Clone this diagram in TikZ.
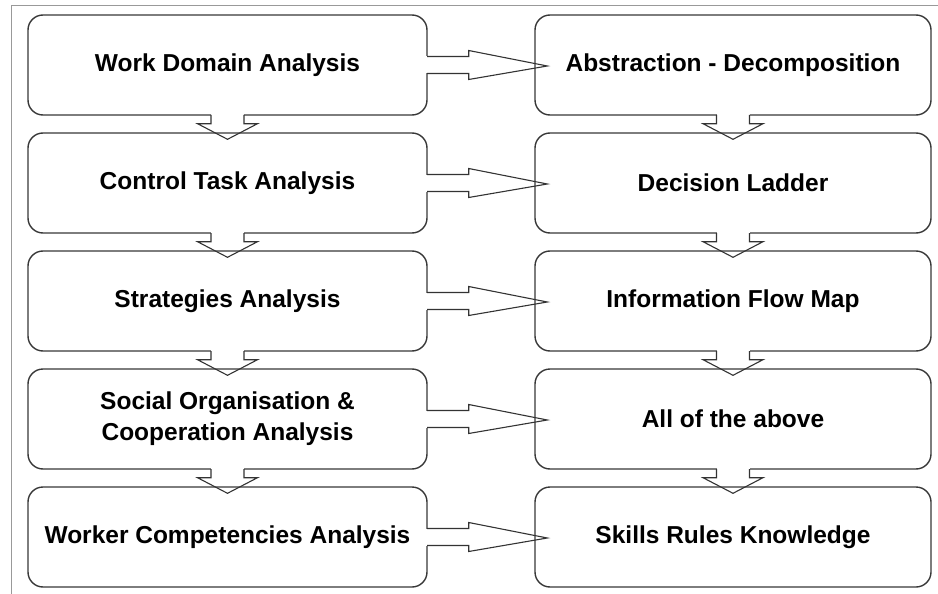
\documentclass[tikz,border=0pt]{standalone}
\usepackage{fontspec}
\setmainfont{Liberation Sans}
\usetikzlibrary{calc}

% block arrow pointing down from node #1 into node #2
\newcommand\flowdown[2]{%
  \fill[white] ($(#1.south)+(-16.5,-2)$) rectangle ($(#1.south)+(16.5,2)$);
  \draw[flow] ($(#1.south)+(-16.5,-0.7)$) -- ($(#1.south)+(-16.5,8)$)
    -- ($(#1.south)+(-30,8)$) -- ($(#2.north)+(0,7)$)
    -- ($(#1.south)+(30,8)$) -- ($(#1.south)+(16.5,8)$)
    -- ($(#1.south)+(16.5,-0.7)$);
}
% block arrow pointing right from node #1 into node #2
\newcommand\flowright[2]{%
  \fill[white] ($(#1.east)+(-2,-8.5)$) rectangle ($(#1.east)+(2,8.5)$);
  \draw[flow] ($(#1.east)+(-0.7,-8.5)$) -- ($(#1.east)+(41,-8.5)$)
    -- ($(#1.east)+(41,-14.5)$) -- ($(#2.west)+(13,1)$)
    -- ($(#1.east)+(41,14.5)$) -- ($(#1.east)+(41,8.5)$)
    -- ($(#1.east)+(-0.7,8.5)$);
}

\begin{document}
\begin{tikzpicture}[x=1pt,y=-1pt,
  stage/.style={draw=black!78, line width=1.4pt, rounded corners=15pt,
    minimum width=399pt, minimum height=100pt, inner sep=0pt, align=center,
    font=\fontsize{24.5}{31}\selectfont\bfseries},
  outcome/.style={stage, minimum width=396pt},
  flow/.style={draw=black!80, line width=1.1pt, line join=miter},
  frame/.style={draw=black!40, line width=0.8pt}]
\useasboundingbox (0,0) rectangle (938,594);
\draw[frame] (11,594) -- (11,5) -- (938,5);

% analysis stages
\node[stage] (wda) at (227.5,65)  {Work Domain Analysis};
\node[stage] (cta) at (227.5,183) {Control Task Analysis};
\node[stage] (sa)  at (227.5,301) {Strategies Analysis};
\node[stage] (soc) at (227.5,419) {Social Organisation \&\\Cooperation Analysis};
\node[stage] (wca) at (227.5,537) {Worker Competencies Analysis};

% modelling tools
\node[outcome] (ad)  at (733,65)  {Abstraction - Decomposition};
\node[outcome] (dl)  at (733,183) {Decision Ladder};
\node[outcome] (ifm) at (733,301) {Information Flow Map};
\node[outcome] (all) at (733,419) {All of the above};
\node[outcome] (srk) at (733,537) {Skills Rules Knowledge};

% sequence down each column
\flowdown{wda}{cta}
\flowdown{cta}{sa}
\flowdown{sa}{soc}
\flowdown{soc}{wca}
\flowdown{ad}{dl}
\flowdown{dl}{ifm}
\flowdown{ifm}{all}
\flowdown{all}{srk}

% stage to tool
\flowright{wda}{ad}
\flowright{cta}{dl}
\flowright{sa}{ifm}
\flowright{soc}{all}
\flowright{wca}{srk}
\end{tikzpicture}
\end{document}
